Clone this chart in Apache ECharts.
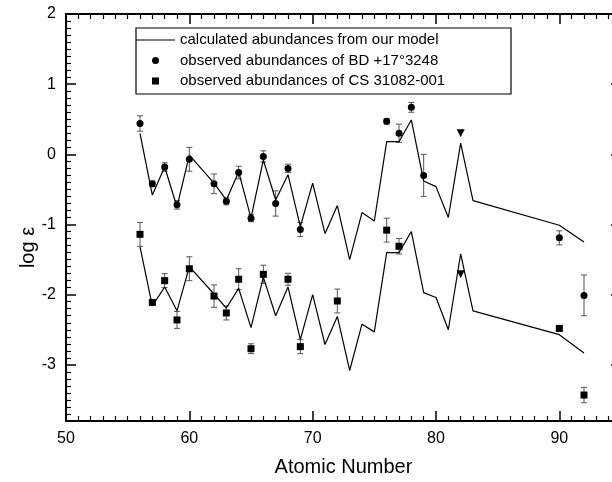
<!DOCTYPE html>
<html>

<head>
    <meta charset="utf-8" />
    <title>log eps vs Atomic Number</title>
    <script src="https://cdn.jsdelivr.net/npm/echarts/dist/echarts.min.js"></script>
    <style>
        html, body { margin: 0; padding: 0; background: #fff; }
        #chart { width: 612px; height: 482px; }
    </style>
</head>

<body>
    <div id="chart"></div>
    <script>
        // model curve (Z = 61, 84-89, 91 skipped)
        var modelZ = [56, 57, 58, 59, 60, 62, 63, 64, 65, 66, 67, 68, 69, 70, 71, 72, 73, 74, 75, 76, 77, 78, 79, 80, 81, 82, 83, 90, 92];
        var modelBD = [0.30, -0.58, -0.18, -0.75, -0.01, -0.41, -0.65, -0.25, -0.91, -0.08, -0.65, -0.29, -1.03, -0.41, -1.13, -0.73, -1.50, -0.83, -0.95, 0.18, 0.18, 0.49, -0.38, -0.46, -0.90, 0.16, -0.66, -1.01, -1.25];
        var modelCS = [-1.32, -2.16, -1.89, -2.23, -1.60, -1.99, -2.19, -1.91, -2.47, -1.75, -2.30, -1.89, -2.64, -2.00, -2.71, -2.31, -3.08, -2.42, -2.53, -1.40, -1.40, -1.10, -1.97, -2.04, -2.50, -1.42, -2.23, -2.57, -2.83];

        // observed BD +17 3248
        var bdZ = [56, 57, 58, 59, 60, 62, 63, 64, 65, 66, 67, 68, 69, 76, 77, 78, 79, 90, 92];
        var bdVal = [0.44, -0.42, -0.18, -0.72, -0.07, -0.42, -0.67, -0.26, -0.91, -0.03, -0.70, -0.20, -1.07, 0.47, 0.30, 0.67, -0.30, -1.19, -2.01];
        var bdErr = [0.11, 0.04, 0.06, 0.06, 0.17, 0.14, 0.05, 0.09, 0.05, 0.08, 0.18, 0.06, 0.10, 0.04, 0.13, 0.07, 0.30, 0.10, 0.29];

        // observed CS 31082-001
        var csZ = [56, 57, 58, 59, 60, 62, 63, 64, 65, 66, 68, 69, 72, 76, 77, 90, 92];
        var csVal = [-1.14, -2.11, -1.80, -2.36, -1.63, -2.02, -2.26, -1.78, -2.77, -1.71, -1.78, -2.74, -2.09, -1.08, -1.31, -2.48, -3.43];
        var csErr = [0.17, 0.03, 0.10, 0.12, 0.17, 0.16, 0.10, 0.15, 0.07, 0.13, 0.085, 0.10, 0.17, 0.17, 0.11, 0.04, 0.11];

        // upper limits (Pb)
        var limZ = [82, 82];
        var limVal = [0.30, -1.71];

        var font = 'Liberation Sans, Arial, Helvetica, sans-serif';
        var lineName = 'calculated abundances from our model';
        var bdName = 'observed abundances of BD +17°3248';
        var csName = 'observed abundances of CS 31082-001';

        function zip(a, b) {
            return a.map(function (v, i) { return [v, b[i]]; });
        }
        function errData(z, v, e) {
            return z.map(function (x, i) { return [x, v[i] - e[i], v[i] + e[i]]; });
        }
        // 误差棒
        function renderErr(params, api) {
            var x = api.value(0);
            var top = api.coord([x, api.value(2)]);
            var bot = api.coord([x, api.value(1)]);
            var w = 3;
            var st = { stroke: '#555', lineWidth: 1 };
            return {
                type: 'group',
                children: [
                    { type: 'line', shape: { x1: top[0], y1: top[1], x2: bot[0], y2: bot[1] }, style: st },
                    { type: 'line', shape: { x1: top[0] - w, y1: top[1], x2: top[0] + w, y2: top[1] }, style: st },
                    { type: 'line', shape: { x1: bot[0] - w, y1: bot[1], x2: bot[0] + w, y2: bot[1] }, style: st }
                ]
            };
        }

        var axisLine = { show: true, onZero: false, lineStyle: { color: '#000', width: 2 } };
        var tick = { show: true, inside: true, length: 10, lineStyle: { color: '#000', width: 1.5 } };
        var minor = { show: true, splitNumber: 10, length: 5, lineStyle: { color: '#000', width: 1.2 } };

        var myChart = echarts.init(document.getElementById('chart'));
        var option = {
            animation: false,
            backgroundColor: '#fff',
            grid: { left: 66, top: 14, width: 555, height: 407, outerBoundsMode: 'none' },
            legend: {
                data: [
                    { name: lineName, icon: 'path://M0,0H390V12H0Z' },
                    { name: bdName, icon: 'circle' },
                    { name: csName, icon: 'path://M0,0H10V10H0Z' }
                ],
                orient: 'vertical',
                left: 136,
                top: 32.5,
                padding: 0,
                itemWidth: 39,
                itemHeight: 7,
                itemGap: 5.5,
                symbolKeepAspect: true,
                selectedMode: false,
                textStyle: { fontFamily: font, fontSize: 15, lineHeight: 15, color: '#000' }
            },
            graphic: [{
                type: 'rect',
                shape: { x: 136, y: 28, width: 375, height: 66 },
                style: { fill: null, stroke: '#000', lineWidth: 1.2 },
                z: 10
            }],
            xAxis: [{
                type: 'value',
                min: 50,
                max: 95,
                interval: 10,
                name: 'Atomic Number',
                nameLocation: 'middle',
                nameGap: 36,
                nameTextStyle: { fontFamily: font, fontSize: 20, color: '#000' },
                axisLine: axisLine,
                axisTick: tick,
                minorTick: minor,
                splitLine: { show: false },
                axisLabel: { fontFamily: font, fontSize: 16, color: '#000', margin: 10, showMaxLabel: false }
            }, {
                type: 'value',
                position: 'top',
                min: 50,
                max: 95,
                interval: 10,
                axisLine: axisLine,
                axisTick: tick,
                minorTick: minor,
                splitLine: { show: false },
                axisLabel: { show: false }
            }],
            yAxis: [{
                type: 'value',
                min: -3.8,
                max: 2,
                name: 'log ε',
                nameLocation: 'middle',
                nameGap: 28,
                nameMoveOverlap: false,
                nameTextStyle: { fontFamily: font, fontSize: 20, color: '#000', padding: [0, 60, 0, 0] },
                axisLine: axisLine,
                axisTick: tick,
                minorTick: minor,
                splitLine: { show: false },
                axisLabel: { fontFamily: font, fontSize: 16, color: '#000', margin: 10, showMinLabel: false }
            }, {
                type: 'value',
                position: 'right',
                min: -3.8,
                max: 2,
                axisLine: axisLine,
                axisTick: tick,
                minorTick: minor,
                splitLine: { show: false },
                axisLabel: { show: false }
            }],
            series: [
                {
                    name: lineName, type: 'line', data: zip(modelZ, modelBD),
                    symbol: 'none', lineStyle: { color: '#000', width: 1.2 }, itemStyle: { color: '#000' }
                },
                {
                    name: lineName, type: 'line', data: zip(modelZ, modelCS),
                    symbol: 'none', lineStyle: { color: '#000', width: 1.2 }, itemStyle: { color: '#000' }
                },
                {
                    name: 'errBD', type: 'custom', renderItem: renderErr,
                    encode: { x: 0, y: [1, 2] }, data: errData(bdZ, bdVal, bdErr), z: 3
                },
                {
                    name: 'errCS', type: 'custom', renderItem: renderErr,
                    encode: { x: 0, y: [1, 2] }, data: errData(csZ, csVal, csErr), z: 3
                },
                {
                    name: bdName, type: 'scatter', data: zip(bdZ, bdVal),
                    symbol: 'circle', symbolSize: 7, itemStyle: { color: '#000', opacity: 1 }, z: 5
                },
                {
                    name: csName, type: 'scatter', data: zip(csZ, csVal),
                    symbol: 'rect', symbolSize: 7, itemStyle: { color: '#000', opacity: 1 }, z: 5
                },
                {
                    name: 'upper limit', type: 'scatter', data: zip(limZ, limVal),
                    symbol: 'triangle', symbolRotate: 180, symbolSize: 8, itemStyle: { color: '#000', opacity: 1 }, z: 5
                }
            ]
        };
        myChart.setOption(option);
    </script>
</body>

</html>
